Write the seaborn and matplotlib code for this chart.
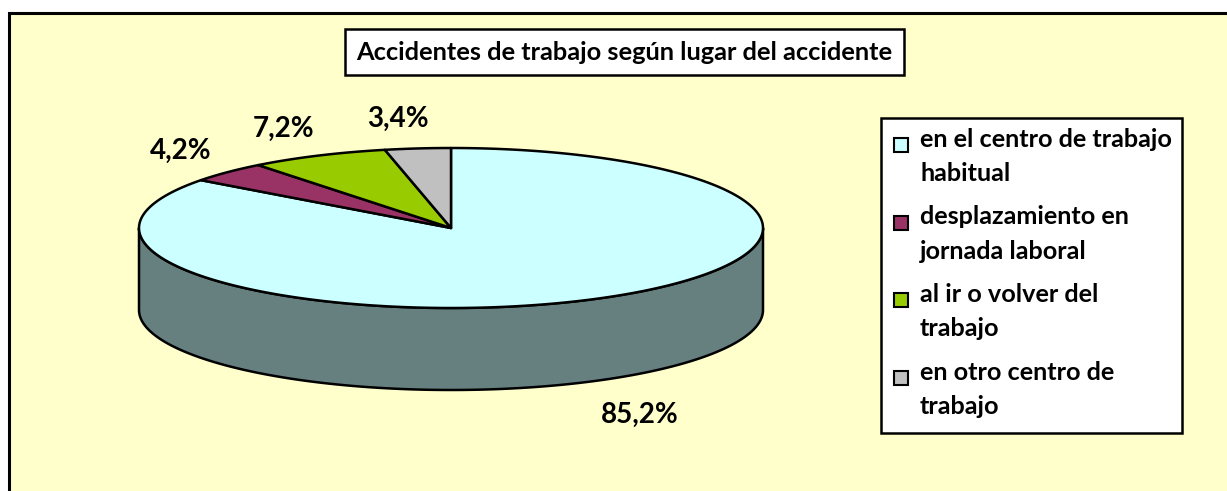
import numpy as np
import matplotlib
matplotlib.use("Agg")
import matplotlib.pyplot as plt
from matplotlib.patches import Polygon, Rectangle
import seaborn as sns

# Data
categories = ["en el centro de trabajo\nhabitual",
              "desplazamiento en\njornada laboral",
              "al ir o volver del\ntrabajo",
              "en otro centro de\ntrabajo"]
shares = [85.2, 4.2, 7.2, 3.4]
labels = ["85,2%", "4,2%", "7,2%", "3,4%"]
colors = ["#CCFFFF", "#993366", "#99CC00", "#C0C0C0"]
title = "Accidentes de trabajo según lugar del accidente"

sns.set_theme(style="white")
plt.rcParams["font.family"] = ["Lato", "DejaVu Sans"]

W, H = 1227, 491
fig = plt.figure(figsize=(W / 100, H / 100), dpi=100)
fig.patch.set_facecolor("white")
ax = fig.add_axes([0, 0, 1, 1])
ax.set_xlim(0, W)
ax.set_ylim(H, 0)
ax.axis("off")

# chart area frame
ax.add_patch(Rectangle((9, 13), W + 20, H + 20, facecolor="#FFFFCC",
                       edgecolor="black", lw=2.2, zorder=0))

# 3d pie geometry (pixel space)
cx, cy, rx, ry, depth = 451, 228, 312, 80, 82


def pt(theta, dy=0.0):
    return np.column_stack([cx + rx * np.sin(theta), cy - ry * np.cos(theta) + dy])


bounds = np.concatenate([[0], np.cumsum(shares)]) / sum(shares) * 2 * np.pi

# side walls (front half only)
for i, c in enumerate(colors):
    a0, a1 = max(bounds[i], np.pi / 2), min(bounds[i + 1], 3 * np.pi / 2)
    if a1 <= a0:
        continue
    t = np.linspace(a0, a1, 200)
    side = np.vstack([pt(t), pt(t[::-1], depth)])
    dark = tuple(0.5 * v for v in matplotlib.colors.to_rgb(c))
    ax.add_patch(Polygon(side, closed=True, facecolor=dark, edgecolor="black",
                         lw=1.8, joinstyle="round", zorder=2))

# top surface
for i, c in enumerate(colors):
    t = np.linspace(bounds[i], bounds[i + 1], 300)
    top = np.vstack([[cx, cy], pt(t)])
    ax.add_patch(Polygon(top, closed=True, facecolor=c, edgecolor="black",
                         lw=1.8, joinstyle="round", zorder=3))

# data labels
for i, lab in enumerate(labels):
    m = (bounds[i] + bounds[i + 1]) / 2
    x = cx + (rx + 45) * np.sin(m)
    y = cy - (ry + 30) * np.cos(m)
    if np.cos(m) < 0:
        x += 29
        y += depth + 7
    else:
        x -= 15
    ax.text(x, y, lab, ha="center", va="center", fontsize=20,
            fontweight="bold", color="black", zorder=5)

# title box
ax.text(624, 52, title, ha="center", va="center", fontsize=18.3,
        fontweight="bold", color="black", zorder=5,
        bbox=dict(boxstyle="square,pad=0.45", facecolor="white",
                  edgecolor="black", lw=1.8))

# legend box
lx0, ly0, lx1, ly1 = 881, 118, 1182, 433
ax.add_patch(Rectangle((lx0, ly0), lx1 - lx0, ly1 - ly0, facecolor="white",
                       edgecolor="black", lw=1.8, zorder=4))
row0, step = 143, 77.5
for i, (cat, c) in enumerate(zip(categories, colors)):
    y = row0 + i * step
    ax.add_patch(Rectangle((894, y - 5), 14, 14, facecolor=c,
                           edgecolor="black", lw=1.5, zorder=5))
    ax.text(920, y - 15, cat, ha="left", va="top", fontsize=18.2,
            fontweight="bold", linespacing=1.6, color="black", zorder=5)

fig.savefig("out.png", dpi=100)
